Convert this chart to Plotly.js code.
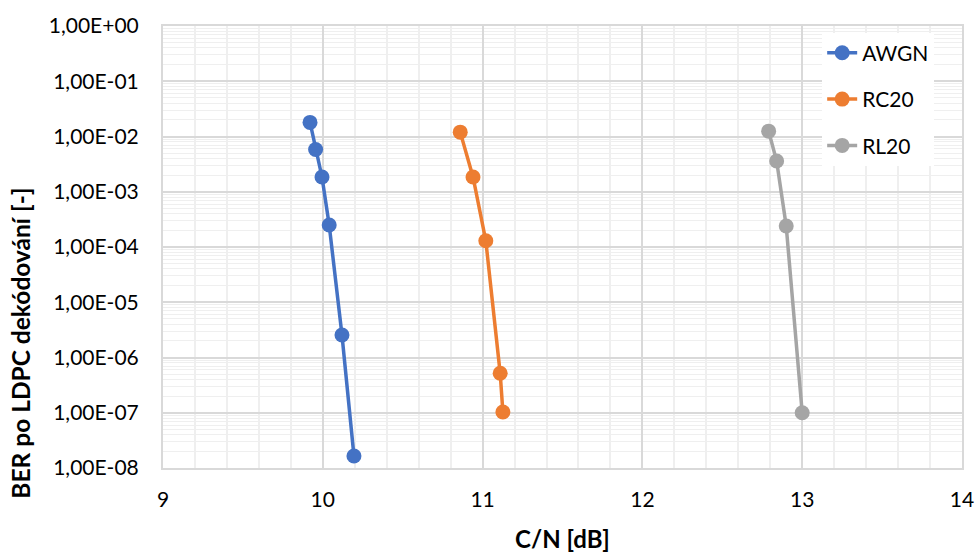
<!DOCTYPE html>
<html><head><meta charset="utf-8">
<script src="https://cdn.plot.ly/plotly-3.0.1.min.js"></script>
<style>body{margin:0;background:#fff}#chart{width:979px;height:553px}</style>
</head><body><div id="chart"></div>
<script>
const awgnX = [9.92, 9.955, 9.995, 10.04, 10.12, 10.195];
const awgnY = [1.8e-2, 5.8e-3, 1.85e-3, 2.5e-4, 2.55e-6, 1.65e-8];
const rc20X = [10.86, 10.94, 11.02, 11.11, 11.127];
const rc20Y = [1.2e-2, 1.85e-3, 1.3e-4, 5.2e-7, 1.03e-7];
const rl20X = [12.79, 12.84, 12.9, 13.0];
const rl20Y = [1.25e-2, 3.6e-3, 2.4e-4, 1.0e-7];
const yTickVals = [1e0, 1e-1, 1e-2, 1e-3, 1e-4, 1e-5, 1e-6, 1e-7, 1e-8];
const yTickText = ['1,00E+00','1,00E-01','1,00E-02','1,00E-03','1,00E-04','1,00E-05','1,00E-06','1,00E-07','1,00E-08'];
const xTitle = 'C/N [dB]';
const yTitle = 'BER po LDPC dekódování [-]';

const font = 'Lato, "Open Sans", sans-serif';
function tr(x, y, name, color) {
  return {x: x, y: y, name: name, legendgroup: name, type: 'scatter', mode: 'lines+markers',
    line: {color: color, width: 3.5}, marker: {color: color, size: 15}};
}
const data = [
  tr(awgnX, awgnY, 'AWGN', '#4472c4'),
  tr(rc20X, rc20Y, 'RC20', '#ed7d31'),
  tr(rl20X, rl20Y, 'RL20', '#a5a5a5')
];
const layout = {
  width: 979, height: 553,
  margin: {l: 163, r: 17, t: 26, b: 85},
  paper_bgcolor: '#fff', plot_bgcolor: '#fff',
  font: {family: font, size: 21, color: '#000'},
  showlegend: true,
  legend: {x: 0.825, y: 0.985, xanchor: 'left', yanchor: 'top', bgcolor: '#fff',
    font: {size: 21}, traceorder: 'grouped', tracegroupgap: 16, valign: 'middle'},
  xaxis: {range: [9, 14], dtick: 1, tick0: 9, showgrid: true, gridcolor: '#d9d9d9', gridwidth: 1.5,
    minor: {dtick: 0.2, showgrid: true, gridcolor: '#efefef', gridwidth: 1.5},
    zeroline: false, showline: true, linecolor: '#d9d9d9', linewidth: 2, mirror: true,
    ticks: '', ticklabelstandoff: 12,
    title: {text: '<b>' + xTitle + '</b>', font: {size: 24}, standoff: 22}},
  yaxis: {type: 'log', range: [-8, 0], tickmode: 'array', tickvals: yTickVals, ticktext: yTickText,
    showgrid: true, gridcolor: '#d9d9d9', gridwidth: 1.5,
    minor: {dtick: 'D1', showgrid: true, gridcolor: '#efefef', gridwidth: 1},
    zeroline: false, showline: true, linecolor: '#d9d9d9', linewidth: 2, mirror: true,
    ticks: '', ticklabelstandoff: 18},
  annotations: [{text: '<b>' + yTitle + '</b>', xref: 'paper', yref: 'paper',
    x: -0.178, y: 0.283, xanchor: 'center', yanchor: 'middle', textangle: -90,
    showarrow: false, font: {size: 24.5}}]
};
Plotly.newPlot('chart', data, layout, {displayModeBar: false});
</script></body></html>
